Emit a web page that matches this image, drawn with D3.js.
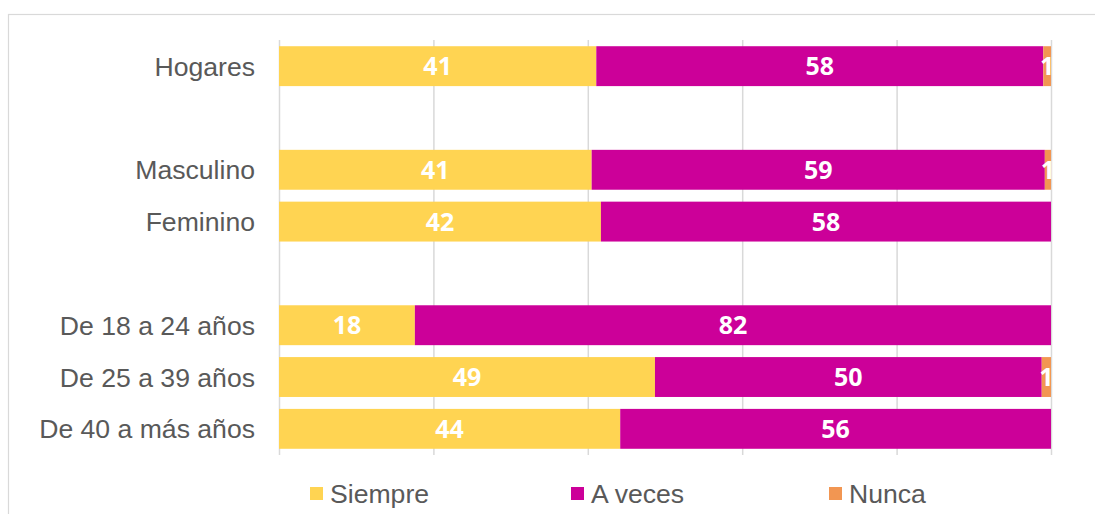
<!DOCTYPE html>
<html>
<head>
<meta charset="utf-8">
<script src="https://cdn.jsdelivr.net/npm/d3@7"></script>
<style>
body { margin: 0; background: #fff; }
svg { display: block; }
</style>
</head>
<body>
<script>
// categories (blank strings are the spacer rows)
const categories = ["Hogares", "", "Masculino", "Feminino", " ", "De 18 a 24 años", "De 25 a 39 años", "De 40 a más años"];
const siempre = [41.1, null, 40.5, 41.7, null, 17.6, 48.7, 44.2];
const aveces  = [57.9, null, 58.7, 58.3, null, 82.4, 50.1, 55.8];
const nunca   = [1.0, null, 0.8, 0, null, 0, 1.2, 0];
const series = ["Siempre", "A veces", "Nunca"];
const colors = ["#FFD452", "#CC0099", "#F29652"];
const ticks = [0, 20, 40, 60, 80, 100];

const width = 1095, height = 514;
const margin = {left: 279, right: 44, top: 40, bottom: 59};

const svg = d3.select("body").append("svg")
  .attr("width", width)
  .attr("height", height);

// outer frame
svg.append("rect")
  .attr("x", 8.5).attr("y", 14.5)
  .attr("width", width).attr("height", height)
  .attr("fill", "none")
  .attr("stroke", "#d9d9d9")
  .attr("stroke-width", 1.2);

const x = d3.scaleLinear().domain([0, 100]).range([margin.left, width - margin.right]);
const y = d3.scaleBand().domain(categories)
  .range([margin.top, height - margin.bottom])
  .paddingInner(0.23).paddingOuter(0.12);

//gridlines
svg.append("g").selectAll("line")
  .data(ticks)
  .enter().append("line")
  .attr("x1", d => x(d) + 0.5).attr("x2", d => x(d) + 0.5)
  .attr("y1", margin.top).attr("y2", height - margin.bottom)
  .attr("stroke", "#d9d9d9")
  .attr("stroke-width", 1.5);

const rows = categories.map((c, i) => ({cat: c, vals: [siempre[i], aveces[i], nunca[i]]}))
  .filter(r => r.vals[0] != null);

rows.forEach(r => {
  let acc = 0;
  r.vals.forEach((v, j) => {
    if (v > 0) {
      svg.append("rect")
        .attr("x", x(acc))
        .attr("y", y(r.cat))
        .attr("width", x(acc + v) - x(acc))
        .attr("height", y.bandwidth())
        .attr("fill", colors[j]);
    }
    r["s" + j] = acc;
    acc += v;
  });
});

// value labels
rows.forEach(r => {
  r.vals.forEach((v, j) => {
    if (v > 0) {
      svg.append("text")
        .attr("x", x(r["s" + j] + v / 2))
        .attr("y", y(r.cat) + y.bandwidth() / 2)
        .attr("dy", "0.36em")
        .attr("text-anchor", "middle")
        .attr("font-family", "'Open Sans', sans-serif")
        .attr("font-weight", "bold")
        .attr("font-size", 25)
        .attr("fill", "#fff")
        .text(Math.round(v));
    }
  });
});

// category labels
svg.append("g").selectAll("text")
  .data(rows)
  .enter().append("text")
  .attr("x", 255)
  .attr("y", d => y(d.cat) + y.bandwidth() / 2)
  .attr("dy", "0.36em")
  .attr("text-anchor", "end")
  .attr("font-family", "'Liberation Sans', Arial, sans-serif")
  .attr("font-size", 26.6)
  .attr("fill", "#595959")
  .text(d => d.cat);

// legend
const legX = [310, 571, 829];
const leg = svg.append("g").selectAll("g")
  .data(series)
  .enter().append("g")
  .attr("transform", (d, i) => `translate(${legX[i]},487)`);
leg.append("rect")
  .attr("width", 13).attr("height", 13)
  .attr("fill", (d, i) => colors[i]);
leg.append("text")
  .attr("x", 20).attr("y", 6.5)
  .attr("dy", "0.36em")
  .attr("font-family", "'Liberation Sans', Arial, sans-serif")
  .attr("font-size", 26.6)
  .attr("fill", "#595959")
  .text(d => d);
</script>
</body>
</html>
